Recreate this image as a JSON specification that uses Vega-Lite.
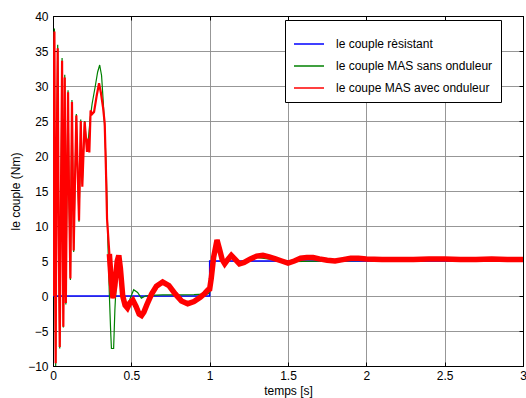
{
  "$schema": "https://vega.github.io/schema/vega-lite/v6.json",
  "width": 470,
  "height": 350,
  "autosize": {"type": "none"},
  "padding": {"left": 53, "top": 16, "right": 3, "bottom": 32},
  "background": "white",
  "config": {
    "font": "Liberation Sans",
    "view": {"stroke": "black", "strokeWidth": 1},
    "axis": {
      "labelFont": "Liberation Sans",
      "titleFont": "Liberation Sans",
      "labelFontSize": 12,
      "titleFontSize": 12,
      "titleFontWeight": "normal",
      "labelColor": "black",
      "titleColor": "black",
      "domainColor": "black",
      "tickColor": "black",
      "gridColor": "#8c8c8c",
      "gridWidth": 1,
      "gridOpacity": 0.9
    },
    "legend": {
      "labelFont": "Liberation Sans",
      "labelFontSize": 12,
      "labelColor": "black"
    }
  },
  "datasets": {
    "couple": [
      {"t": 0, "y": 0, "s": "le couple rèsistant"},
      {"t": 1, "y": 0, "s": "le couple rèsistant"},
      {"t": 1, "y": 5, "s": "le couple rèsistant"},
      {"t": 3, "y": 5, "s": "le couple rèsistant"},

      {"t": 0, "y": 0, "s": "le couple MAS sans onduleur"},
      {"t": 0.004, "y": 30, "s": "le couple MAS sans onduleur"},
      {"t": 0.009, "y": 38.2, "s": "le couple MAS sans onduleur"},
      {"t": 0.013, "y": 5, "s": "le couple MAS sans onduleur"},
      {"t": 0.017, "y": -10, "s": "le couple MAS sans onduleur"},
      {"t": 0.022, "y": 15, "s": "le couple MAS sans onduleur"},
      {"t": 0.03, "y": 35.9, "s": "le couple MAS sans onduleur"},
      {"t": 0.036, "y": 10, "s": "le couple MAS sans onduleur"},
      {"t": 0.043, "y": -7.5, "s": "le couple MAS sans onduleur"},
      {"t": 0.05, "y": 12, "s": "le couple MAS sans onduleur"},
      {"t": 0.058, "y": 34, "s": "le couple MAS sans onduleur"},
      {"t": 0.062, "y": 10, "s": "le couple MAS sans onduleur"},
      {"t": 0.066, "y": -4.5, "s": "le couple MAS sans onduleur"},
      {"t": 0.07, "y": 10, "s": "le couple MAS sans onduleur"},
      {"t": 0.075, "y": 31.6, "s": "le couple MAS sans onduleur"},
      {"t": 0.078, "y": 15, "s": "le couple MAS sans onduleur"},
      {"t": 0.082, "y": -1.2, "s": "le couple MAS sans onduleur"},
      {"t": 0.088, "y": 14, "s": "le couple MAS sans onduleur"},
      {"t": 0.096, "y": 29.4, "s": "le couple MAS sans onduleur"},
      {"t": 0.102, "y": 15, "s": "le couple MAS sans onduleur"},
      {"t": 0.111, "y": 2.3, "s": "le couple MAS sans onduleur"},
      {"t": 0.116, "y": 15, "s": "le couple MAS sans onduleur"},
      {"t": 0.121, "y": 28, "s": "le couple MAS sans onduleur"},
      {"t": 0.126, "y": 18, "s": "le couple MAS sans onduleur"},
      {"t": 0.132, "y": 6.3, "s": "le couple MAS sans onduleur"},
      {"t": 0.14, "y": 16, "s": "le couple MAS sans onduleur"},
      {"t": 0.149, "y": 26, "s": "le couple MAS sans onduleur"},
      {"t": 0.155, "y": 20, "s": "le couple MAS sans onduleur"},
      {"t": 0.166, "y": 10.6, "s": "le couple MAS sans onduleur"},
      {"t": 0.172, "y": 18, "s": "le couple MAS sans onduleur"},
      {"t": 0.177, "y": 25.2, "s": "le couple MAS sans onduleur"},
      {"t": 0.187, "y": 16, "s": "le couple MAS sans onduleur"},
      {"t": 0.202, "y": 25, "s": "le couple MAS sans onduleur"},
      {"t": 0.217, "y": 20.8, "s": "le couple MAS sans onduleur"},
      {"t": 0.228, "y": 23, "s": "le couple MAS sans onduleur"},
      {"t": 0.238, "y": 25.5, "s": "le couple MAS sans onduleur"},
      {"t": 0.25, "y": 27.5, "s": "le couple MAS sans onduleur"},
      {"t": 0.27, "y": 30, "s": "le couple MAS sans onduleur"},
      {"t": 0.285, "y": 32, "s": "le couple MAS sans onduleur"},
      {"t": 0.298, "y": 33, "s": "le couple MAS sans onduleur"},
      {"t": 0.31, "y": 31.5, "s": "le couple MAS sans onduleur"},
      {"t": 0.32, "y": 28, "s": "le couple MAS sans onduleur"},
      {"t": 0.33, "y": 24, "s": "le couple MAS sans onduleur"},
      {"t": 0.34, "y": 18, "s": "le couple MAS sans onduleur"},
      {"t": 0.35, "y": 8, "s": "le couple MAS sans onduleur"},
      {"t": 0.36, "y": 0, "s": "le couple MAS sans onduleur"},
      {"t": 0.368, "y": -5, "s": "le couple MAS sans onduleur"},
      {"t": 0.373, "y": -7.5, "s": "le couple MAS sans onduleur"},
      {"t": 0.387, "y": -7.5, "s": "le couple MAS sans onduleur"},
      {"t": 0.395, "y": -2, "s": "le couple MAS sans onduleur"},
      {"t": 0.405, "y": 2.5, "s": "le couple MAS sans onduleur"},
      {"t": 0.42, "y": 3.9, "s": "le couple MAS sans onduleur"},
      {"t": 0.43, "y": 3.5, "s": "le couple MAS sans onduleur"},
      {"t": 0.445, "y": 0, "s": "le couple MAS sans onduleur"},
      {"t": 0.468, "y": -1.6, "s": "le couple MAS sans onduleur"},
      {"t": 0.49, "y": -0.5, "s": "le couple MAS sans onduleur"},
      {"t": 0.515, "y": 0.9, "s": "le couple MAS sans onduleur"},
      {"t": 0.54, "y": 0.5, "s": "le couple MAS sans onduleur"},
      {"t": 0.564, "y": -0.3, "s": "le couple MAS sans onduleur"},
      {"t": 0.59, "y": 0, "s": "le couple MAS sans onduleur"},
      {"t": 0.62, "y": 0.1, "s": "le couple MAS sans onduleur"},
      {"t": 0.7, "y": 0.15, "s": "le couple MAS sans onduleur"},
      {"t": 0.8, "y": 0.15, "s": "le couple MAS sans onduleur"},
      {"t": 0.9, "y": 0.2, "s": "le couple MAS sans onduleur"},
      {"t": 0.99, "y": 0.3, "s": "le couple MAS sans onduleur"},
      {"t": 1.0, "y": 0.5, "s": "le couple MAS sans onduleur"},
      {"t": 1.01, "y": 2.5, "s": "le couple MAS sans onduleur"},
      {"t": 1.025, "y": 5.5, "s": "le couple MAS sans onduleur"},
      {"t": 1.047, "y": 7.8, "s": "le couple MAS sans onduleur"},
      {"t": 1.065, "y": 6.4, "s": "le couple MAS sans onduleur"},
      {"t": 1.08, "y": 5.1, "s": "le couple MAS sans onduleur"},
      {"t": 1.096, "y": 4.6, "s": "le couple MAS sans onduleur"},
      {"t": 1.115, "y": 5.2, "s": "le couple MAS sans onduleur"},
      {"t": 1.138, "y": 5.7, "s": "le couple MAS sans onduleur"},
      {"t": 1.16, "y": 5.2, "s": "le couple MAS sans onduleur"},
      {"t": 1.19, "y": 4.7, "s": "le couple MAS sans onduleur"},
      {"t": 1.3, "y": 5.5, "s": "le couple MAS sans onduleur"},
      {"t": 1.5, "y": 4.9, "s": "le couple MAS sans onduleur"},
      {"t": 2, "y": 5.1, "s": "le couple MAS sans onduleur"},
      {"t": 3, "y": 5.1, "s": "le couple MAS sans onduleur"},

      {"t": 0, "y": 0, "s": "le coupe MAS avec onduleur"},
      {"t": 0.004, "y": 30, "s": "le coupe MAS avec onduleur"},
      {"t": 0.009, "y": 37.8, "s": "le coupe MAS avec onduleur"},
      {"t": 0.013, "y": 5, "s": "le coupe MAS avec onduleur"},
      {"t": 0.017, "y": -9.6, "s": "le coupe MAS avec onduleur"},
      {"t": 0.022, "y": 15, "s": "le coupe MAS avec onduleur"},
      {"t": 0.03, "y": 35.4, "s": "le coupe MAS avec onduleur"},
      {"t": 0.036, "y": 10, "s": "le coupe MAS avec onduleur"},
      {"t": 0.043, "y": -7.3, "s": "le coupe MAS avec onduleur"},
      {"t": 0.05, "y": 12, "s": "le coupe MAS avec onduleur"},
      {"t": 0.058, "y": 33.6, "s": "le coupe MAS avec onduleur"},
      {"t": 0.062, "y": 10, "s": "le coupe MAS avec onduleur"},
      {"t": 0.066, "y": -4.4, "s": "le coupe MAS avec onduleur"},
      {"t": 0.07, "y": 10, "s": "le coupe MAS avec onduleur"},
      {"t": 0.075, "y": 31.2, "s": "le coupe MAS avec onduleur"},
      {"t": 0.078, "y": 15, "s": "le coupe MAS avec onduleur"},
      {"t": 0.082, "y": -1.0, "s": "le coupe MAS avec onduleur"},
      {"t": 0.088, "y": 14, "s": "le coupe MAS avec onduleur"},
      {"t": 0.096, "y": 29.1, "s": "le coupe MAS avec onduleur"},
      {"t": 0.102, "y": 15, "s": "le coupe MAS avec onduleur"},
      {"t": 0.111, "y": 2.5, "s": "le coupe MAS avec onduleur"},
      {"t": 0.116, "y": 15, "s": "le coupe MAS avec onduleur"},
      {"t": 0.121, "y": 27.7, "s": "le coupe MAS avec onduleur"},
      {"t": 0.126, "y": 18, "s": "le coupe MAS avec onduleur"},
      {"t": 0.132, "y": 6.5, "s": "le coupe MAS avec onduleur"},
      {"t": 0.14, "y": 16, "s": "le coupe MAS avec onduleur"},
      {"t": 0.149, "y": 25.8, "s": "le coupe MAS avec onduleur"},
      {"t": 0.155, "y": 20, "s": "le coupe MAS avec onduleur"},
      {"t": 0.166, "y": 10.8, "s": "le coupe MAS avec onduleur"},
      {"t": 0.172, "y": 18, "s": "le coupe MAS avec onduleur"},
      {"t": 0.177, "y": 25.0, "s": "le coupe MAS avec onduleur"},
      {"t": 0.187, "y": 15.6, "s": "le coupe MAS avec onduleur"},
      {"t": 0.202, "y": 24.9, "s": "le coupe MAS avec onduleur"},
      {"t": 0.217, "y": 20.6, "s": "le coupe MAS avec onduleur"},
      {"t": 0.226, "y": 22.5, "s": "le coupe MAS avec onduleur"},
      {"t": 0.232, "y": 20.5, "s": "le coupe MAS avec onduleur"},
      {"t": 0.24, "y": 26.5, "s": "le coupe MAS avec onduleur"},
      {"t": 0.25, "y": 26.0, "s": "le coupe MAS avec onduleur"},
      {"t": 0.262, "y": 26.3, "s": "le coupe MAS avec onduleur"},
      {"t": 0.278, "y": 28.5, "s": "le coupe MAS avec onduleur"},
      {"t": 0.294, "y": 30.4, "s": "le coupe MAS avec onduleur"},
      {"t": 0.306, "y": 29, "s": "le coupe MAS avec onduleur"},
      {"t": 0.319, "y": 27, "s": "le coupe MAS avec onduleur"},
      {"t": 0.33, "y": 24.7, "s": "le coupe MAS avec onduleur"},
      {"t": 0.338, "y": 18, "s": "le coupe MAS avec onduleur"},
      {"t": 0.345, "y": 11, "s": "le coupe MAS avec onduleur"},
      {"t": 0.36, "y": 6, "s": "le coupe MAS avec onduleur"},
      {"t": 0.372, "y": 2, "s": "le coupe MAS avec onduleur"},
      {"t": 0.383, "y": -0.3, "s": "le coupe MAS avec onduleur"},
      {"t": 0.395, "y": 1.5, "s": "le coupe MAS avec onduleur"},
      {"t": 0.41, "y": 5, "s": "le coupe MAS avec onduleur"},
      {"t": 0.42, "y": 5.8, "s": "le coupe MAS avec onduleur"},
      {"t": 0.43, "y": 4, "s": "le coupe MAS avec onduleur"},
      {"t": 0.445, "y": 0, "s": "le coupe MAS avec onduleur"},
      {"t": 0.46, "y": -1.3, "s": "le coupe MAS avec onduleur"},
      {"t": 0.475, "y": -1.7, "s": "le coupe MAS avec onduleur"},
      {"t": 0.49, "y": -1.0, "s": "le coupe MAS avec onduleur"},
      {"t": 0.51, "y": -0.6, "s": "le coupe MAS avec onduleur"},
      {"t": 0.53, "y": -1.5, "s": "le coupe MAS avec onduleur"},
      {"t": 0.55, "y": -2.6, "s": "le coupe MAS avec onduleur"},
      {"t": 0.565, "y": -2.8, "s": "le coupe MAS avec onduleur"},
      {"t": 0.58, "y": -2.3, "s": "le coupe MAS avec onduleur"},
      {"t": 0.6, "y": -1.2, "s": "le coupe MAS avec onduleur"},
      {"t": 0.63, "y": 0.3, "s": "le coupe MAS avec onduleur"},
      {"t": 0.66, "y": 1.4, "s": "le coupe MAS avec onduleur"},
      {"t": 0.7, "y": 2.0, "s": "le coupe MAS avec onduleur"},
      {"t": 0.74, "y": 1.5, "s": "le coupe MAS avec onduleur"},
      {"t": 0.78, "y": 0.3, "s": "le coupe MAS avec onduleur"},
      {"t": 0.82, "y": -0.7, "s": "le coupe MAS avec onduleur"},
      {"t": 0.86, "y": -1.1, "s": "le coupe MAS avec onduleur"},
      {"t": 0.9, "y": -0.8, "s": "le coupe MAS avec onduleur"},
      {"t": 0.94, "y": -0.2, "s": "le coupe MAS avec onduleur"},
      {"t": 0.97, "y": 0.4, "s": "le coupe MAS avec onduleur"},
      {"t": 0.99, "y": 0.9, "s": "le coupe MAS avec onduleur"},
      {"t": 1.0, "y": 1.0, "s": "le coupe MAS avec onduleur"},
      {"t": 1.01, "y": 2.5, "s": "le coupe MAS avec onduleur"},
      {"t": 1.025, "y": 5.5, "s": "le coupe MAS avec onduleur"},
      {"t": 1.047, "y": 8.0, "s": "le coupe MAS avec onduleur"},
      {"t": 1.065, "y": 6.5, "s": "le coupe MAS avec onduleur"},
      {"t": 1.08, "y": 5.2, "s": "le coupe MAS avec onduleur"},
      {"t": 1.096, "y": 4.6, "s": "le coupe MAS avec onduleur"},
      {"t": 1.115, "y": 5.2, "s": "le coupe MAS avec onduleur"},
      {"t": 1.138, "y": 5.8, "s": "le coupe MAS avec onduleur"},
      {"t": 1.16, "y": 5.3, "s": "le coupe MAS avec onduleur"},
      {"t": 1.19, "y": 4.6, "s": "le coupe MAS avec onduleur"},
      {"t": 1.22, "y": 4.8, "s": "le coupe MAS avec onduleur"},
      {"t": 1.26, "y": 5.3, "s": "le coupe MAS avec onduleur"},
      {"t": 1.3, "y": 5.7, "s": "le coupe MAS avec onduleur"},
      {"t": 1.34, "y": 5.8, "s": "le coupe MAS avec onduleur"},
      {"t": 1.38, "y": 5.6, "s": "le coupe MAS avec onduleur"},
      {"t": 1.42, "y": 5.3, "s": "le coupe MAS avec onduleur"},
      {"t": 1.46, "y": 5.0, "s": "le coupe MAS avec onduleur"},
      {"t": 1.5, "y": 4.7, "s": "le coupe MAS avec onduleur"},
      {"t": 1.54, "y": 5.0, "s": "le coupe MAS avec onduleur"},
      {"t": 1.58, "y": 5.4, "s": "le coupe MAS avec onduleur"},
      {"t": 1.62, "y": 5.5, "s": "le coupe MAS avec onduleur"},
      {"t": 1.66, "y": 5.5, "s": "le coupe MAS avec onduleur"},
      {"t": 1.7, "y": 5.3, "s": "le coupe MAS avec onduleur"},
      {"t": 1.75, "y": 5.1, "s": "le coupe MAS avec onduleur"},
      {"t": 1.8, "y": 5.0, "s": "le coupe MAS avec onduleur"},
      {"t": 1.85, "y": 5.2, "s": "le coupe MAS avec onduleur"},
      {"t": 1.9, "y": 5.4, "s": "le coupe MAS avec onduleur"},
      {"t": 1.95, "y": 5.4, "s": "le coupe MAS avec onduleur"},
      {"t": 2.0, "y": 5.3, "s": "le coupe MAS avec onduleur"},
      {"t": 2.1, "y": 5.2, "s": "le coupe MAS avec onduleur"},
      {"t": 2.2, "y": 5.2, "s": "le coupe MAS avec onduleur"},
      {"t": 2.3, "y": 5.2, "s": "le coupe MAS avec onduleur"},
      {"t": 2.4, "y": 5.3, "s": "le coupe MAS avec onduleur"},
      {"t": 2.5, "y": 5.3, "s": "le coupe MAS avec onduleur"},
      {"t": 2.6, "y": 5.2, "s": "le coupe MAS avec onduleur"},
      {"t": 2.7, "y": 5.2, "s": "le coupe MAS avec onduleur"},
      {"t": 2.8, "y": 5.3, "s": "le coupe MAS avec onduleur"},
      {"t": 2.9, "y": 5.2, "s": "le coupe MAS avec onduleur"},
      {"t": 3.0, "y": 5.2, "s": "le coupe MAS avec onduleur"}
    ]
  },
  "data": {"name": "couple"},
  "encoding": {
    "color": {
      "field": "s", "type": "nominal",
      "scale": {
        "domain": ["le couple rèsistant", "le couple MAS sans onduleur", "le coupe MAS avec onduleur"],
        "range": ["#0000ff", "#008000", "#ff0000"]
      },
      "legend": {
        "title": null, "orient": "none", "legendX": 232, "legendY": 4,
        "symbolType": "stroke", "symbolSize": 900, "symbolStrokeWidth": 1.5,
        "strokeColor": "black", "fillColor": "white", "padding": 8,
        "rowPadding": 0, "labelOffset": 11, "labelLimit": 300, "direction": "vertical"
      }
    }
  },
  "layer": [
    {
      "transform": [{"filter": "datum.s === 'le couple rèsistant'"}],
      "mark": {"type": "line", "strokeWidth": 1.5, "clip": true},
      "encoding": {
        "x": {"field": "t", "type": "quantitative", "title": "temps [s]",
          "scale": {"domain": [0, 3], "nice": false, "zero": false},
          "axis": {"orient": "bottom", "values": [0, 0.5, 1, 1.5, 2, 2.5, 3], "format": "~g", "grid": true, "tickSize": -4, "labelPadding": 8, "titlePadding": 4, "labelFlush": false}},
        "y": {"field": "y", "type": "quantitative", "title": "le couple (Nm)",
          "scale": {"domain": [-10, 40], "nice": false, "zero": false},
          "axis": {"orient": "left", "values": [-10, -5, 0, 5, 10, 15, 20, 25, 30, 35, 40], "format": "~g", "grid": true, "tickSize": -4, "labelPadding": 9, "titlePadding": 5}}
      }
    },
    {
      "transform": [{"filter": "datum.s === 'le couple MAS sans onduleur'"}],
      "mark": {"type": "line", "strokeWidth": 1.2, "clip": true},
      "encoding": {
        "x": {"field": "t", "type": "quantitative",
          "axis": {"orient": "top", "values": [0, 0.5, 1, 1.5, 2, 2.5, 3], "grid": false, "labels": false, "title": null, "tickSize": -4}},
        "y": {"field": "y", "type": "quantitative",
          "axis": {"orient": "right", "values": [-10, -5, 0, 5, 10, 15, 20, 25, 30, 35, 40], "grid": false, "labels": false, "title": null, "tickSize": -4}}
      }
    },
    {
      "transform": [{"filter": "datum.s === 'le coupe MAS avec onduleur'"}],
      "mark": {"type": "line", "strokeWidth": 2.2, "clip": true},
      "encoding": {
        "x": {"field": "t", "type": "quantitative", "axis": null},
        "y": {"field": "y", "type": "quantitative", "axis": null}
      }
    },
    {
      "transform": [{"filter": "datum.s === 'le coupe MAS avec onduleur' && datum.t >= 0.36"}],
      "mark": {"type": "line", "strokeWidth": 5.5, "clip": true},
      "encoding": {
        "x": {"field": "t", "type": "quantitative", "axis": null},
        "y": {"field": "y", "type": "quantitative", "axis": null}
      }
    }
  ]
}
